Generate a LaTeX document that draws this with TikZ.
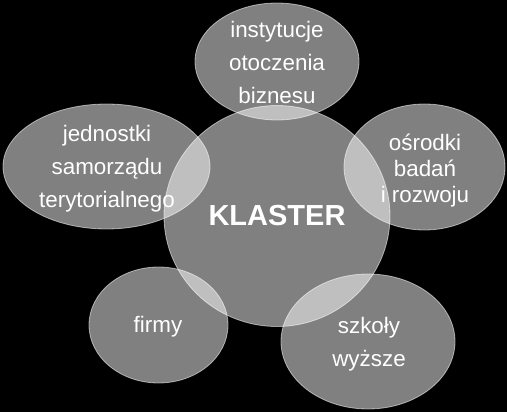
\documentclass[tikz,border=0pt]{standalone}
\usepackage{fontspec}
\setmainfont{Liberation Sans}
\usetikzlibrary{shapes.geometric}

\begin{document}
\begin{tikzpicture}[
    x=1pt, y=-1pt,
    blob/.style={ellipse, draw=white, draw opacity=0.55, line width=0.8pt, fill=white, fill opacity=0.5, inner sep=0pt},
    caption/.style={text=white, align=center, inner sep=0pt, font=\fontsize{22.4}{33}\selectfont}
]
    % background
    \fill[black] (0,0) rectangle (507,412);

    % centre
    \node[blob, minimum width=226pt, minimum height=221pt] (k) at (277,216) {};
    \node[caption, font=\bfseries\fontsize{29}{33}\selectfont] (kt) at (277,216) {KLASTER};

    % members
    \node[blob, minimum width=164pt, minimum height=117pt] (m1) at (277,61.5) {};
    \node[caption] (t1) at (277,62.5) {instytucje\\otoczenia\\biznesu};

    \node[blob, minimum width=207pt, minimum height=125pt] (m2) at (106.5,166.5) {};
    \node[caption] (t2) at (107,169) {jednostki\\samorządu\\terytorialnego};

    \node[blob, minimum width=161pt, minimum height=126pt] (m3) at (424.5,167) {};
    \node[caption, font=\fontsize{22.4}{26}\selectfont] (t3) at (425,171) {ośrodki\\badań\\i rozwoju};

    \node[blob, minimum width=139pt, minimum height=116pt] (m4) at (158.5,325) {};
    \node[caption] (t4) at (158,327) {firmy};

    \node[blob, minimum width=174pt, minimum height=135pt] (m5) at (368,341.5) {};
    \node[caption] (t5) at (369,344) {szkoły\\wyższe};

\end{tikzpicture}
\end{document}
